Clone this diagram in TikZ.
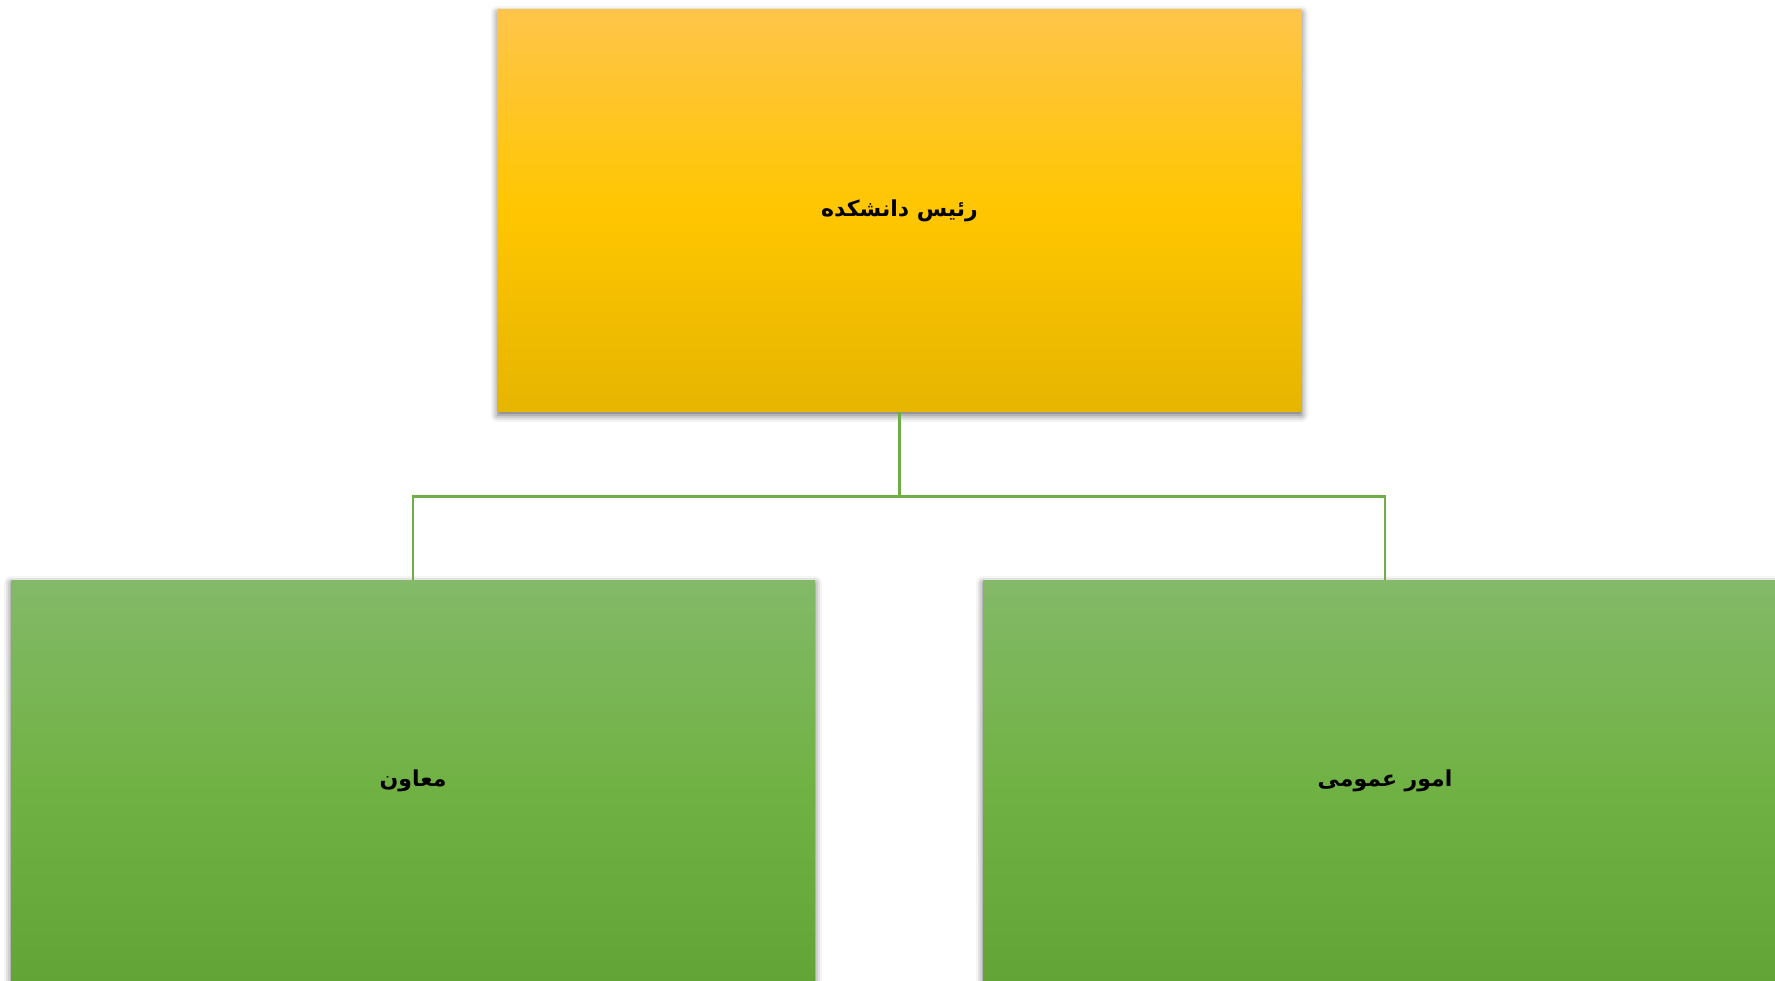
\documentclass[tikz,border=0pt]{standalone}
\usepackage{fontspec}
\usepackage{xcolor}
\usepackage{tikz}
\usetikzlibrary{calc,positioning,shadows.blur}
\TeXXeTstate=1
\newfontfamily\arabicfont[Script=Arabic]{DejaVu Sans}

\definecolor{headtop}{HTML}{FFC54A}
\definecolor{headmid}{HTML}{FFC600}
\definecolor{headbot}{HTML}{E6B500}
\definecolor{unittop}{HTML}{83B968}
\definecolor{unitmid}{HTML}{71B245}
\definecolor{unitbot}{HTML}{63A436}
\definecolor{linkgreen}{HTML}{70AD47}

\begin{document}
\begin{tikzpicture}[x=1pt,y=-1pt,
  box/.style={rectangle,minimum width=804pt,minimum height=402pt,inner sep=0pt,
    font=\arabicfont\bfseries\fontsize{22}{26}\selectfont,
    blur shadow={shadow xshift=0pt,shadow yshift=-3pt,shadow blur radius=7pt,shadow opacity=60}},
  headbox/.style={box,top color=headtop,bottom color=headbot,middle color=headmid},
  unitbox/.style={box,top color=unittop,bottom color=unitbot,middle color=unitmid},
  link/.style={draw=linkgreen,line width=2.6pt}]
  \useasboundingbox (0,0) rectangle (1775,981);
  \clip (0,0) rectangle (1775,981);
  % head of the faculty
  \node[headbox] (head) at (899.5,211) {\beginR رئیس دانشکده\endR};
  % the two units under it
  \node[unitbox] (deputy) at (413,781) {\beginR معاون\endR};
  \node[unitbox] (general) at (1385,781) {\beginR امور عمومی\endR};
  \coordinate (fork) at ($(head.south)+(0,84)$);
  \draw[link] (head.south) -- (fork) -| (deputy.north);
  \draw[link] (fork) -| (general.north);
\end{tikzpicture}
\end{document}
